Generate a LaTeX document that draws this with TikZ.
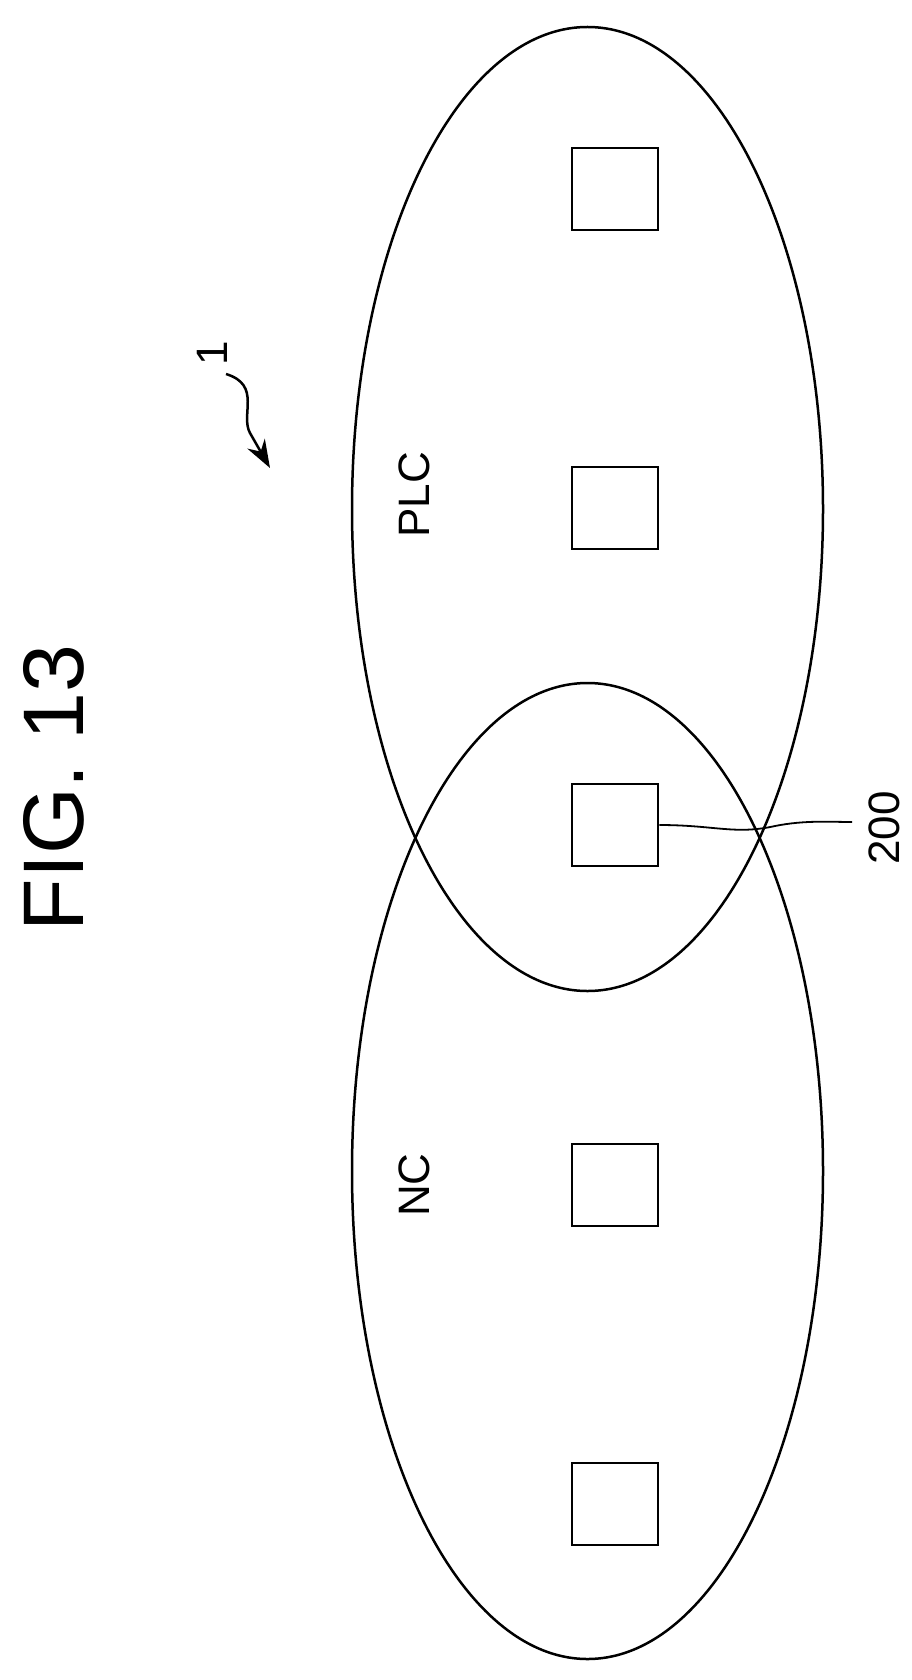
\documentclass[tikz,border=0pt]{standalone}
\usepackage{fontspec}
\usetikzlibrary{arrows.meta}
\setmainfont{Liberation Sans}
\begin{document}
\begin{tikzpicture}[x=1pt,y=-1pt,line width=2.5pt,
  unit/.style={draw,minimum width=86pt,minimum height=82pt,inner sep=0pt},
  lbl/.style={rotate=90,font=\fontsize{44}{48}\selectfont,inner sep=0pt}]
\useasboundingbox (0,0) rectangle (911,1680);
\draw (587.5,509) ellipse [x radius=235.5, y radius=482];
\draw (587.5,1171) ellipse [x radius=235.5, y radius=488];
\node[unit] (b1) at (615,189) {};
\node[unit] (b2) at (615,508) {};
\node[unit] (b3) at (615,825) {};
\node[unit] (b4) at (615,1185) {};
\node[unit] (b5) at (615,1504) {};
\node[rotate=90,font=\fontsize{86}{90}\selectfont,inner sep=0pt] (fig) at (54,788) {FIG. 13};
\node[lbl] (plc) at (414,495) {PLC};
\node[lbl] (nc) at (414,1185) {NC};
\node[lbl] (n200) at (884,828) {200};
\node[lbl] (n1) at (212,353) {1};
\coordinate (a0) at (226,374);
\coordinate (a1) at (270,468);
\draw[-{Stealth[length=28pt,width=20pt]}] (a0) .. controls (262,385) and (240,415) .. (250,433) -- (a1);
\draw[line width=1.8pt] (b3.east) .. controls (715,825) and (735,835) .. (775,826) .. controls (805,820) and (830,822) .. (852,822);
\end{tikzpicture}
\end{document}
